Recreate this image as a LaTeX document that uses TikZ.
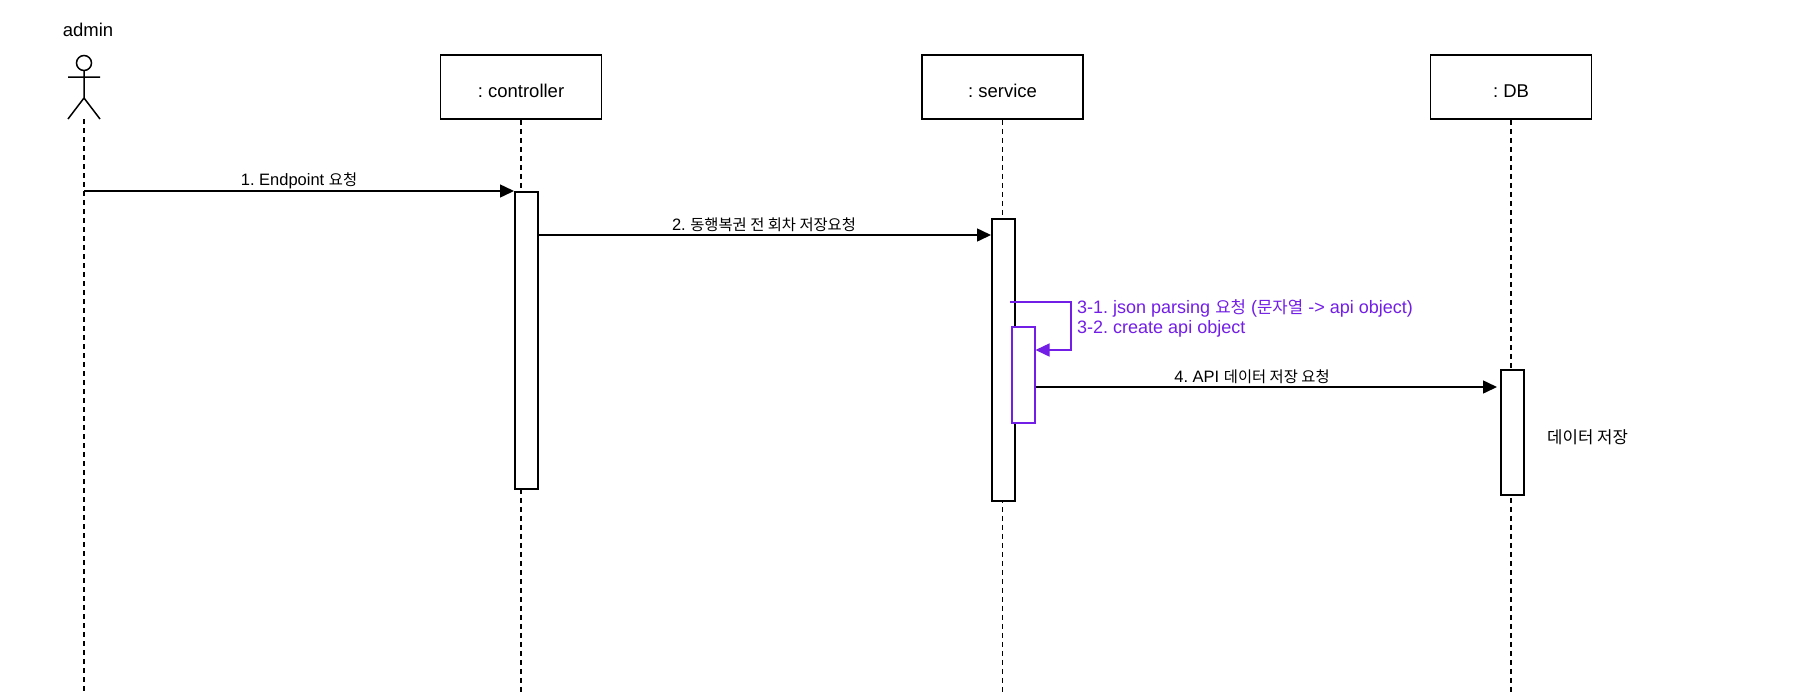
\documentclass[tikz,border=0pt]{standalone}
\usepackage{fontspec}
\setmainfont{Liberation Sans}
\newfontfamily\kr[Scale=0.93]{Noto Sans CJK KR}
\usetikzlibrary{arrows.meta}
\definecolor{vio}{RGB}{115,30,230}
\frenchspacing
\tikzset{
  bigtxt/.style={font=\fontsize{18.5}{22}\selectfont, inner sep=0pt},
  midtxt/.style={font=\fontsize{18}{22}\selectfont, inner sep=0pt},
  msgtxt/.style={font=\fontsize{16.5}{20}\selectfont, inner sep=0pt},
  part/.style={draw, line width=1.5pt, minimum width=161pt, minimum height=64pt,
    inner sep=0pt, text height=21pt, text depth=0pt, font=\fontsize{18.5}{22}\selectfont},
  life/.style={line width=1.5pt, dash pattern=on 5pt off 4pt},
  actbox/.style={draw, fill=white, line width=1.5pt, minimum width=23pt, inner sep=0pt},
  msgarrow/.style={line width=1.5pt, -{Triangle[length=14pt,width=13pt]}},
}
\begin{document}
\begin{tikzpicture}[x=1pt,y=-1pt]
\useasboundingbox[fill=white] (0,0) rectangle (1804,694);
\coordinate (bottom) at (0,694);

% actor
\node[bigtxt, anchor=base] (admin) at (88,36) {admin};
\draw[line width=1.5pt] (84,63) circle[radius=7.5pt];
\draw[line width=1.5pt] (84,70.5) -- (84,98) (68,77) -- (100,77) (68,119) -- (84,98) -- (100,119);
\coordinate (actor) at (84,119);

% participants
\node[part] (ctrl) at (521,87) {: controller};
\node[part] (svc) at (1002.5,87) {: service};
\node[part] (db) at (1511,87) {: DB};

% lifelines
\draw[life] (actor) -- (actor |- bottom);
\draw[life] (ctrl.south) -- (ctrl.south |- bottom);
\draw[life] (svc.south) -- (svc.south |- bottom);
\draw[life] (db.south) -- (db.south |- bottom);

% activations
\node[actbox, minimum height=297pt, anchor=north west] (ctrlact) at (514,191) {};
\node[actbox, minimum height=282pt, anchor=north west] (svcact) at (991,218) {};
\node[actbox, minimum height=125pt, anchor=north west] (dbact) at (1500,369) {};

% message 1
\coordinate (m1) at (0,191);
\draw[msgarrow] (actor |- m1) -- (ctrlact.north west);
\node[msgtxt, anchor=base] (l1) at (299,185) {1. Endpoint {\kr 요청}};

% message 2
\coordinate (m2) at (0,235);
\draw[msgarrow] (ctrlact.east |- m2) -- (svcact.west |- m2);
\node[msgtxt, anchor=base] (l2) at (764,230) {2. {\kr 동행복권 전 회차 저장요청}};

% self message 3
\node[actbox, draw=vio, minimum height=96pt, anchor=north west] (parse) at (1011,326) {};
\coordinate (lp1) at (1010,302);
\coordinate (lp2) at (1071,350);
\draw[msgarrow, vio] (lp1) -| (lp2) -- (parse.east |- lp2);
\node[midtxt, text=vio, anchor=base west] (t31) at (1077,313) {3-1. json parsing {\kr 요청} ({\kr 문자열} -> api object)};
\node[midtxt, text=vio, anchor=base west] (t32) at (1077,333.5) {3-2. create api object};

% message 4
\coordinate (m4) at (0,387);
\draw[msgarrow, shorten >=3pt] (parse.east |- m4) -- (dbact.west |- m4);
\node[msgtxt, anchor=base] (l4) at (1252,382) {4. API {\kr 데이터 저장 요청}};

\node[midtxt, anchor=base west] (dsave) at (1547,443) {{\kr 데이터 저장}};
\end{tikzpicture}
\end{document}
